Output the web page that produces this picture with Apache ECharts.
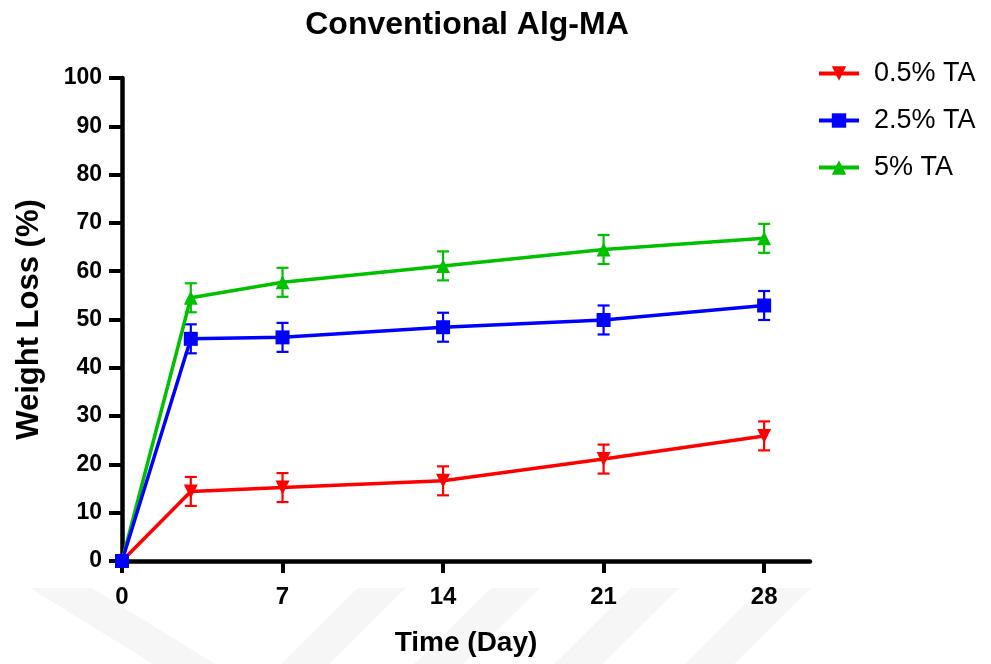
<!DOCTYPE html>
<html>
<head>
<meta charset="utf-8">
<script src="https://cdn.jsdelivr.net/npm/echarts@6/dist/echarts.min.js"></script>
<style>
  html, body { margin: 0; padding: 0; background: #fff; }
  #chart { width: 991px; height: 664px; }
</style>
</head>
<body>
<div id="chart"></div>
<script>
// days on the x axis
const days = [0, 3, 7, 14, 21, 28]
const xTicks = [0, 7, 14, 21, 28]

// weight loss (%), with error bar half-widths
const ta05 = [0, 14.4, 15.2, 16.6, 21.1, 25.9]
const ta05Err = [0, 3, 3, 3, 3, 3]
const ta25 = [0, 46.0, 46.3, 48.4, 49.9, 52.9]
const ta25Err = [0, 3, 3, 3, 3, 3]
const ta5 = [0, 54.5, 57.7, 61.1, 64.5, 66.8]
const ta5Err = [0, 3, 3, 3, 3, 3]

const FONT = '"Liberation Sans", Arial, sans-serif'

function pairs(vals) {
  return days.map((d, i) => [d, vals[i]])
}

function errData(vals, errs) {
  return days.map((d, i) => [d, vals[i] - errs[i], vals[i] + errs[i]])
}

// 误差棒: vertical line with short caps
function errorBar(color) {
  return function (params, api) {
    const lo = api.coord([api.value(0), api.value(1)])
    const hi = api.coord([api.value(0), api.value(2)])
    if (Math.abs(hi[1] - lo[1]) < 1) return { type: 'group', children: [] }
    const half = 6
    const style = { stroke: color, lineWidth: 2.2 }
    return {
      type: 'group',
      children: [
        { type: 'line', shape: { x1: lo[0], y1: lo[1], x2: hi[0], y2: hi[1] }, style },
        { type: 'line', shape: { x1: lo[0] - half, y1: lo[1], x2: lo[0] + half, y2: lo[1] }, style },
        { type: 'line', shape: { x1: hi[0] - half, y1: hi[1], x2: hi[0] + half, y2: hi[1] }, style }
      ]
    }
  }
}

function lineSeries(name, vals, color, symbol) {
  return {
    name,
    type: 'line',
    data: pairs(vals),
    symbol,
    symbolSize: 14,
    showAllSymbol: true,
    lineStyle: { color, width: 3.5 },
    itemStyle: { color },
    emphasis: { disabled: true },
    z: 3
  }
}

function errSeries(vals, errs, color) {
  return {
    type: 'custom',
    renderItem: errorBar(color),
    data: errData(vals, errs),
    encode: { x: 0, y: [1, 2] },
    silent: true,
    z: 2
  }
}

// faint diagonal watermark stripes at the bottom of the picture
function stripe(points) {
  return { type: 'polygon', z: -10, silent: true, shape: { points }, style: { fill: '#f6f6f6' } }
}
const watermark = [
  stripe([[30, 588], [92, 588], [215, 664], [153, 664]]),
  stripe([[358, 588], [406, 588], [329, 664], [281, 664]]),
  stripe([[491, 588], [540, 588], [463, 664], [414, 664]]),
  stripe([[631, 588], [679, 588], [602, 664], [554, 664]]),
  stripe([[761, 588], [811, 588], [734, 664], [685, 664]])
]

const chart = echarts.init(document.getElementById('chart'), null, { renderer: 'canvas' })

chart.setOption({
  animation: false,
  backgroundColor: '#fff',
  graphic: watermark,
  title: {
    text: 'Conventional Alg-MA',
    left: 462,
    textAlign: 'center',
    top: 4,
    textStyle: { fontFamily: FONT, fontWeight: 'bold', fontSize: 32, color: '#000' }
  },
  legend: {
    orient: 'vertical',
    left: 812,
    top: 55,
    itemWidth: 40,
    itemHeight: 18,
    itemGap: 20,
    lineStyle: { width: 4 },
    textStyle: { fontFamily: FONT, fontSize: 27, color: '#000', padding: [0, 0, 0, 10] },
    data: ['0.5% TA', '2.5% TA', '5% TA']
  },
  grid: { left: 122, right: 181, top: 78, bottom: 103, outerBoundsMode: 'none', containLabel: false },
  xAxis: {
    type: 'value',
    min: 0,
    max: 30,
    name: 'Time (Day)',
    nameLocation: 'middle',
    nameGap: 68,
    nameTextStyle: { fontFamily: FONT, fontWeight: 'bold', fontSize: 28, color: '#000' },
    axisLine: { lineStyle: { color: '#000', width: 4.5 } },
    axisTick: { customValues: xTicks, length: 12, lineStyle: { color: '#000', width: 4 } },
    axisLabel: { customValues: xTicks, margin: 24, fontFamily: FONT, fontWeight: 'bold', fontSize: 24, color: '#000' },
    splitLine: { show: false }
  },
  yAxis: {
    type: 'value',
    min: 0,
    max: 100,
    interval: 10,
    name: 'Weight Loss (%)',
    nameLocation: 'middle',
    nameGap: 77,
    nameTextStyle: { fontFamily: FONT, fontWeight: 'bold', fontSize: 31, color: '#000' },
    axisLine: { show: true, lineStyle: { color: '#000', width: 4.5 } },
    axisTick: { show: true, length: 13, lineStyle: { color: '#000', width: 4 } },
    axisLabel: { margin: 20, fontFamily: FONT, fontWeight: 'bold', fontSize: 23, color: '#000' },
    splitLine: { show: false }
  },
  series: [
    errSeries(ta05, ta05Err, '#ff0000'),
    errSeries(ta5, ta5Err, '#00c000'),
    errSeries(ta25, ta25Err, '#0000ff'),
    lineSeries('0.5% TA', ta05, '#ff0000', 'path://M0,0 L10,0 L5,9 Z'),
    lineSeries('5% TA', ta5, '#00c000', 'triangle'),
    lineSeries('2.5% TA', ta25, '#0000ff', 'rect')
  ]
})
</script>
</body>
</html>
